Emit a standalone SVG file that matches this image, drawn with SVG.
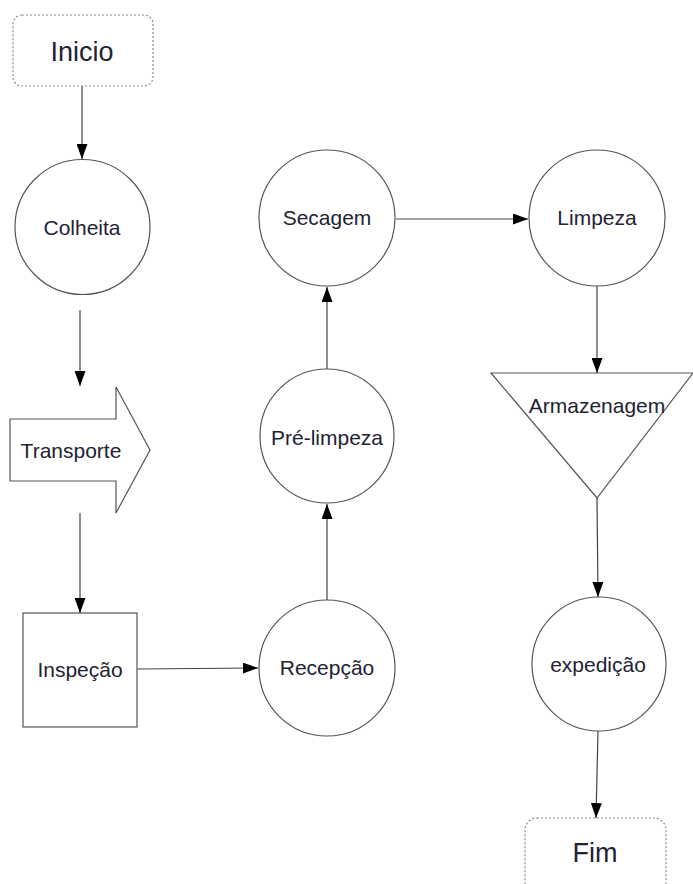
<svg xmlns="http://www.w3.org/2000/svg" width="693" height="884" viewBox="0 0 693 884">
<style>
  .shape { fill: #ffffff; stroke: #555555; stroke-width: 1.2; }
  .term { fill: #ffffff; stroke: #8a8a8a; stroke-width: 1.2; stroke-dasharray: 2 2; }
  .lbl { font-family: "Liberation Sans", Arial, sans-serif; font-size: 21px; fill: #222233; text-anchor: middle; }
  .big { font-size: 27px; }
  .conn { fill: none; stroke: #444444; stroke-width: 1.2; }
</style>
<defs>
  <marker id="ah" viewBox="0 0 15 11" refX="15" refY="5.5" markerWidth="15" markerHeight="11" markerUnits="userSpaceOnUse" orient="auto">
    <path d="M0,0 L15,5.5 L0,11 Z" fill="#000000"/>
  </marker>
</defs>
<rect width="693" height="884" fill="#ffffff"/>

<g id="connectors">
  <line class="conn" x1="82" y1="86" x2="82" y2="159" marker-end="url(#ah)"/>
  <line class="conn" x1="80" y1="310" x2="80" y2="386" marker-end="url(#ah)"/>
  <line class="conn" x1="80" y1="513" x2="80" y2="613" marker-end="url(#ah)"/>
  <line class="conn" x1="137" y1="669" x2="258" y2="668" marker-end="url(#ah)"/>
  <line class="conn" x1="327" y1="600" x2="327" y2="504" marker-end="url(#ah)"/>
  <line class="conn" x1="327" y1="369" x2="327" y2="287" marker-end="url(#ah)"/>
  <line class="conn" x1="396" y1="219" x2="528" y2="219" marker-end="url(#ah)"/>
  <line class="conn" x1="597" y1="286" x2="597" y2="373" marker-end="url(#ah)"/>
  <line class="conn" x1="597" y1="498" x2="598" y2="597" marker-end="url(#ah)"/>
  <line class="conn" x1="598" y1="731" x2="596" y2="818" marker-end="url(#ah)"/>
</g>

<g id="inicio">
  <rect class="term" x="13" y="15" width="140" height="71" rx="9"/>
  <text class="lbl big" x="82" y="61">Inicio</text>
</g>

<g id="colheita">
  <circle class="shape" cx="82.5" cy="227" r="67.5"/>
  <text class="lbl" x="82" y="235">Colheita</text>
</g>

<g id="transporte">
  <polygon class="shape" points="10,419 116,419 116,387 150,450 116,513 116,481 10,481"/>
  <text class="lbl" x="71" y="458">Transporte</text>
</g>

<g id="inspecao">
  <rect class="shape" x="23" y="613" width="114" height="114"/>
  <text class="lbl" x="80" y="677">Inspeção</text>
</g>

<g id="recepcao">
  <circle class="shape" cx="327" cy="668" r="68"/>
  <text class="lbl" x="327" y="675">Recepção</text>
</g>

<g id="pre-limpeza">
  <circle class="shape" cx="327" cy="436" r="67"/>
  <text class="lbl" x="327" y="445">Pré-limpeza</text>
</g>

<g id="secagem">
  <circle class="shape" cx="327" cy="218" r="68"/>
  <text class="lbl" x="327" y="225">Secagem</text>
</g>

<g id="limpeza">
  <circle class="shape" cx="597" cy="218" r="68"/>
  <text class="lbl" x="597" y="225">Limpeza</text>
</g>

<g id="armazenagem">
  <polygon class="shape" points="491,373 693,373 597,498"/>
  <text class="lbl" x="597" y="413">Armazenagem</text>
</g>

<g id="expedicao">
  <circle class="shape" cx="599" cy="664" r="67"/>
  <text class="lbl" x="598" y="672">expedição</text>
</g>

<g id="fim">
  <rect class="term" x="525" y="818" width="141" height="80" rx="12"/>
  <text class="lbl big" x="595" y="862">Fim</text>
</g>
</svg>
